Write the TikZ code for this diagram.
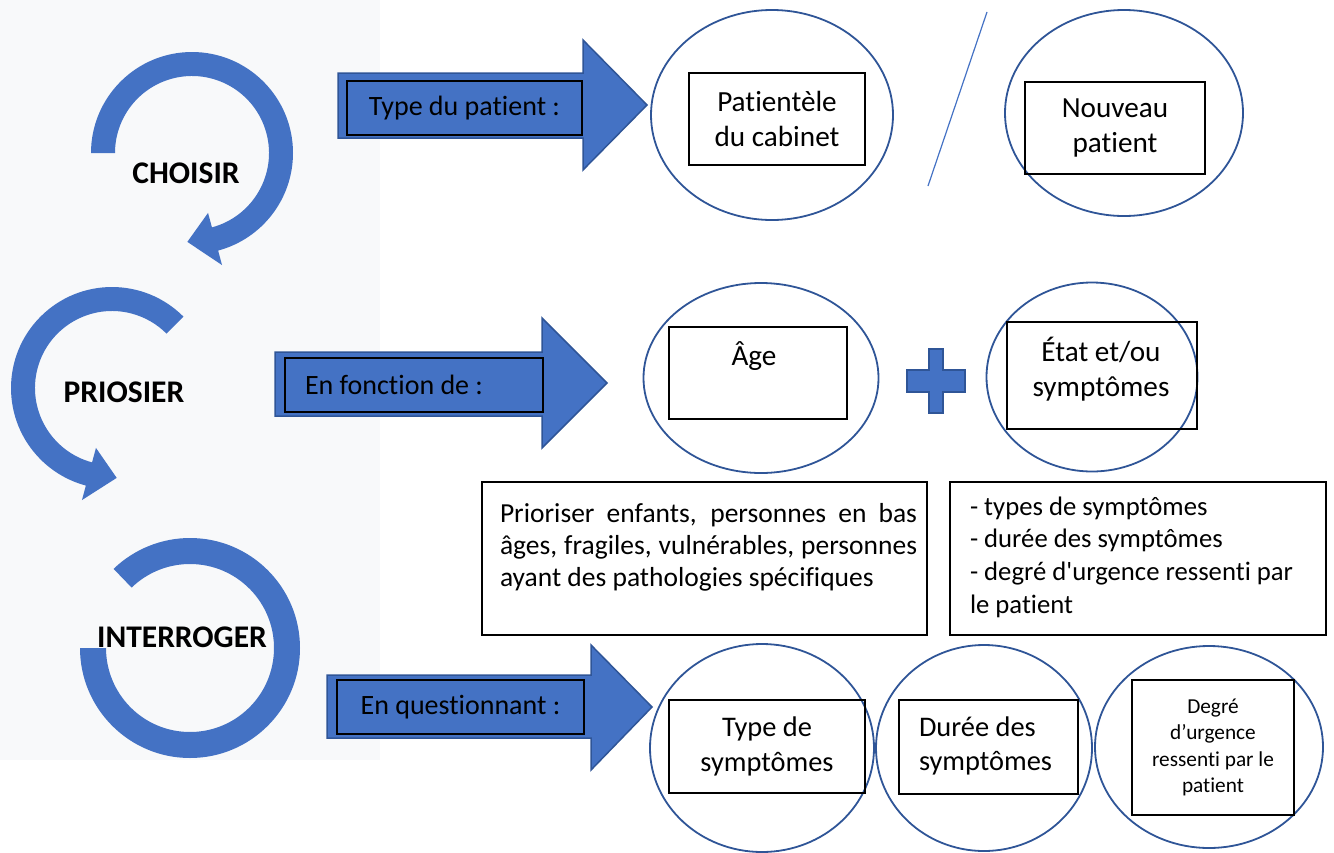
\documentclass[tikz,border=0pt]{standalone}
\usepackage{fontspec}
\setmainfont{Carlito}[Ligatures={TeXOff,CommonOff}]
\usetikzlibrary{shapes.geometric}
\definecolor{c4472c4}{RGB}{68,114,196}
\definecolor{c2f5597}{RGB}{47,85,151}
\definecolor{cf8f9fa}{RGB}{248,249,250}
\tikzset{
  bulle/.style={ellipse, draw=c2f5597, line width=1.8pt},
  cadre/.style={draw=black, line width=1.2pt, align=center},
  fleche/.style={fill=c4472c4, draw=c2f5597, line width=1.5pt, line join=miter},
  anneau/.style={fill=c4472c4},
  etape/.style={font=\bfseries\fontsize{31.5}{37}\selectfont},
  grand/.style={font=\fontsize{29.2}{35}\selectfont, align=center},
  bas/.style={font=\fontsize{28.4}{34.5}\selectfont, align=center},
  moyen/.style={font=\fontsize{28}{33}\selectfont},
  petit/.style={font=\fontsize{26.7}{32.7}\selectfont, align=left},
}

\begin{document}
\begin{tikzpicture}[y=1pt,x=1pt,yscale=-1, inner sep=0pt, outer sep=0pt]
  \useasboundingbox (0,0) rectangle (1334,852);
  \path[fill=cf8f9fa] (0,0) rectangle (380,760);

  % anneaux de gauche
  \path[anneau,shift={(192,153)}] (180:101) arc (180:435:101) -- (435:116)
    -- (453:89) -- (435:62) -- (435:77) arc (435:180:77) -- cycle;
  \path[anneau,shift={(112,388)}] (-45:101) arc (-45:-255:101) -- (-255:116)
    -- (-273:90) -- (-255:62) -- (-255:77) arc (-255:-45:77) -- cycle;
  \path[anneau,shift={(190,648)}] (180:110) arc (180:-134:110) -- (-134:84)
    arc (-134:180:84) -- cycle;
  \path (186,173) node[etape] (txtChoisir) {CHOISIR};
  \path (124,392) node[etape] (txtPriosier) {PRIOSIER};
  \path (182,637) node[etape] (txtInterroger) {INTERROGER};

  % grosses fleches
  \path[fleche] (338,73) -- (583,73) -- (583,40) -- (647,105) -- (583,170)
    -- (583,138) -- (338,138) -- cycle;
  \path[fleche] (275,352) -- (542,352) -- (542,318) -- (607,383) -- (542,448)
    -- (542,416) -- (275,416) -- cycle;
  \path[fleche] (327,675) -- (591,675) -- (591,645) -- (652,707) -- (591,770)
    -- (591,738) -- (327,738) -- cycle;
  \path (464.5,108) node[cadre,moyen,minimum width=235pt,minimum height=54pt]
    (cadType) {Type du patient :};
  \path (414,385) node[cadre,minimum width=258pt,minimum height=54pt] (cadFonction) {};
  \path (305,385) node[moyen,anchor=west] (txtFonction) {En fonction de :};
  \path (460.5,707) node[cadre,moyen,minimum width=247pt,minimum height=54pt]
    (cadQuestion) {En questionnant :};

  % ligne du haut
  \path (772,115) node[bulle,minimum width=242pt,minimum height=210pt] (bulPatientele) {};
  \path (777,119) node[cadre,grand,minimum width=176pt,minimum height=92pt]
    (cadPatientele) {Patientèle\\du cabinet};
  \path[draw=c4472c4,line width=1.2pt] (987,12) -- (928,186);
  \path (1124,113) node[bulle,minimum width=238pt,minimum height=206pt] (bulNouveau) {};
  \path (1115,128) node[cadre,grand,minimum width=180pt,minimum height=92pt]
    (cadNouveau) {Nouveau\\patient};

  % ligne du milieu
  \path (761,378) node[bulle,minimum width=235pt,minimum height=190pt] (bulAge) {};
  \path (758,373) node[cadre,minimum width=178pt,minimum height=92pt] (cadAge) {};
  \path (754,356) node[grand] (txtAge) {Âge};
  \path[fleche] (929,349) -- (943,349) -- (943,370) -- (965,370) -- (965,392)
    -- (943,392) -- (943,413) -- (929,413) -- (929,392) -- (907,392)
    -- (907,370) -- (929,370) -- cycle;
  \path (1092,377) node[bulle,minimum width=211pt,minimum height=189pt] (bulEtat) {};
  \path (1102,375.5) node[cadre,minimum width=190pt,minimum height=107pt] (cadEtat) {};
  \path (1101,369) node[grand] (txtEtat) {État et/ou\\symptômes};

  % encadres de texte
  \path (704.5,558.5) node[cadre,fill=white,minimum width=445pt,minimum height=153pt]
    (boiteAge) {};
  \path (500,547) node[anchor=west,text width=417pt,align=justify,
    font=\fontsize{27.5}{32}\selectfont] (txtBoiteAge)
    {\hyphenpenalty10000\relax Prioriser enfants, personnes en bas âges, fragiles,
     vulnérables, personnes ayant des pathologies spécifiques};
  \path (1138,558.5) node[cadre,fill=white,minimum width=376pt,minimum height=153pt]
    (boiteEtat) {};
  \path (970,557) node[petit,anchor=west] (txtBoiteEtat)
    {- types de symptômes\\- durée des symptômes\\- degré d'urgence ressenti par\\le patient};

  % ligne du bas
  \path (762,748) node[bulle,minimum width=224pt,minimum height=208pt] (bulType) {};
  \path (767,746.5) node[cadre,bas,minimum width=196pt,minimum height=93pt]
    (cadTypeSympt) {Type de\\symptômes};
  \path (984,748) node[bulle,minimum width=216pt,minimum height=206pt] (bulDuree) {};
  \path (988.5,747) node[cadre,minimum width=179pt,minimum height=94pt] (cadDuree) {};
  \path (919,746) node[bas,align=left,anchor=west] (txtDuree) {Durée des\\symptômes};
  \path (1209,747) node[bulle,minimum width=228pt,minimum height=202pt] (bulDegre) {};
  \path (1213,747.5) node[cadre,minimum width=162pt,minimum height=135pt,
    font=\fontsize{21.3}{26.5}\selectfont] (cadDegre)
    {Degré\\d’urgence\\ressenti par le\\patient};

\end{tikzpicture}
\end{document}
